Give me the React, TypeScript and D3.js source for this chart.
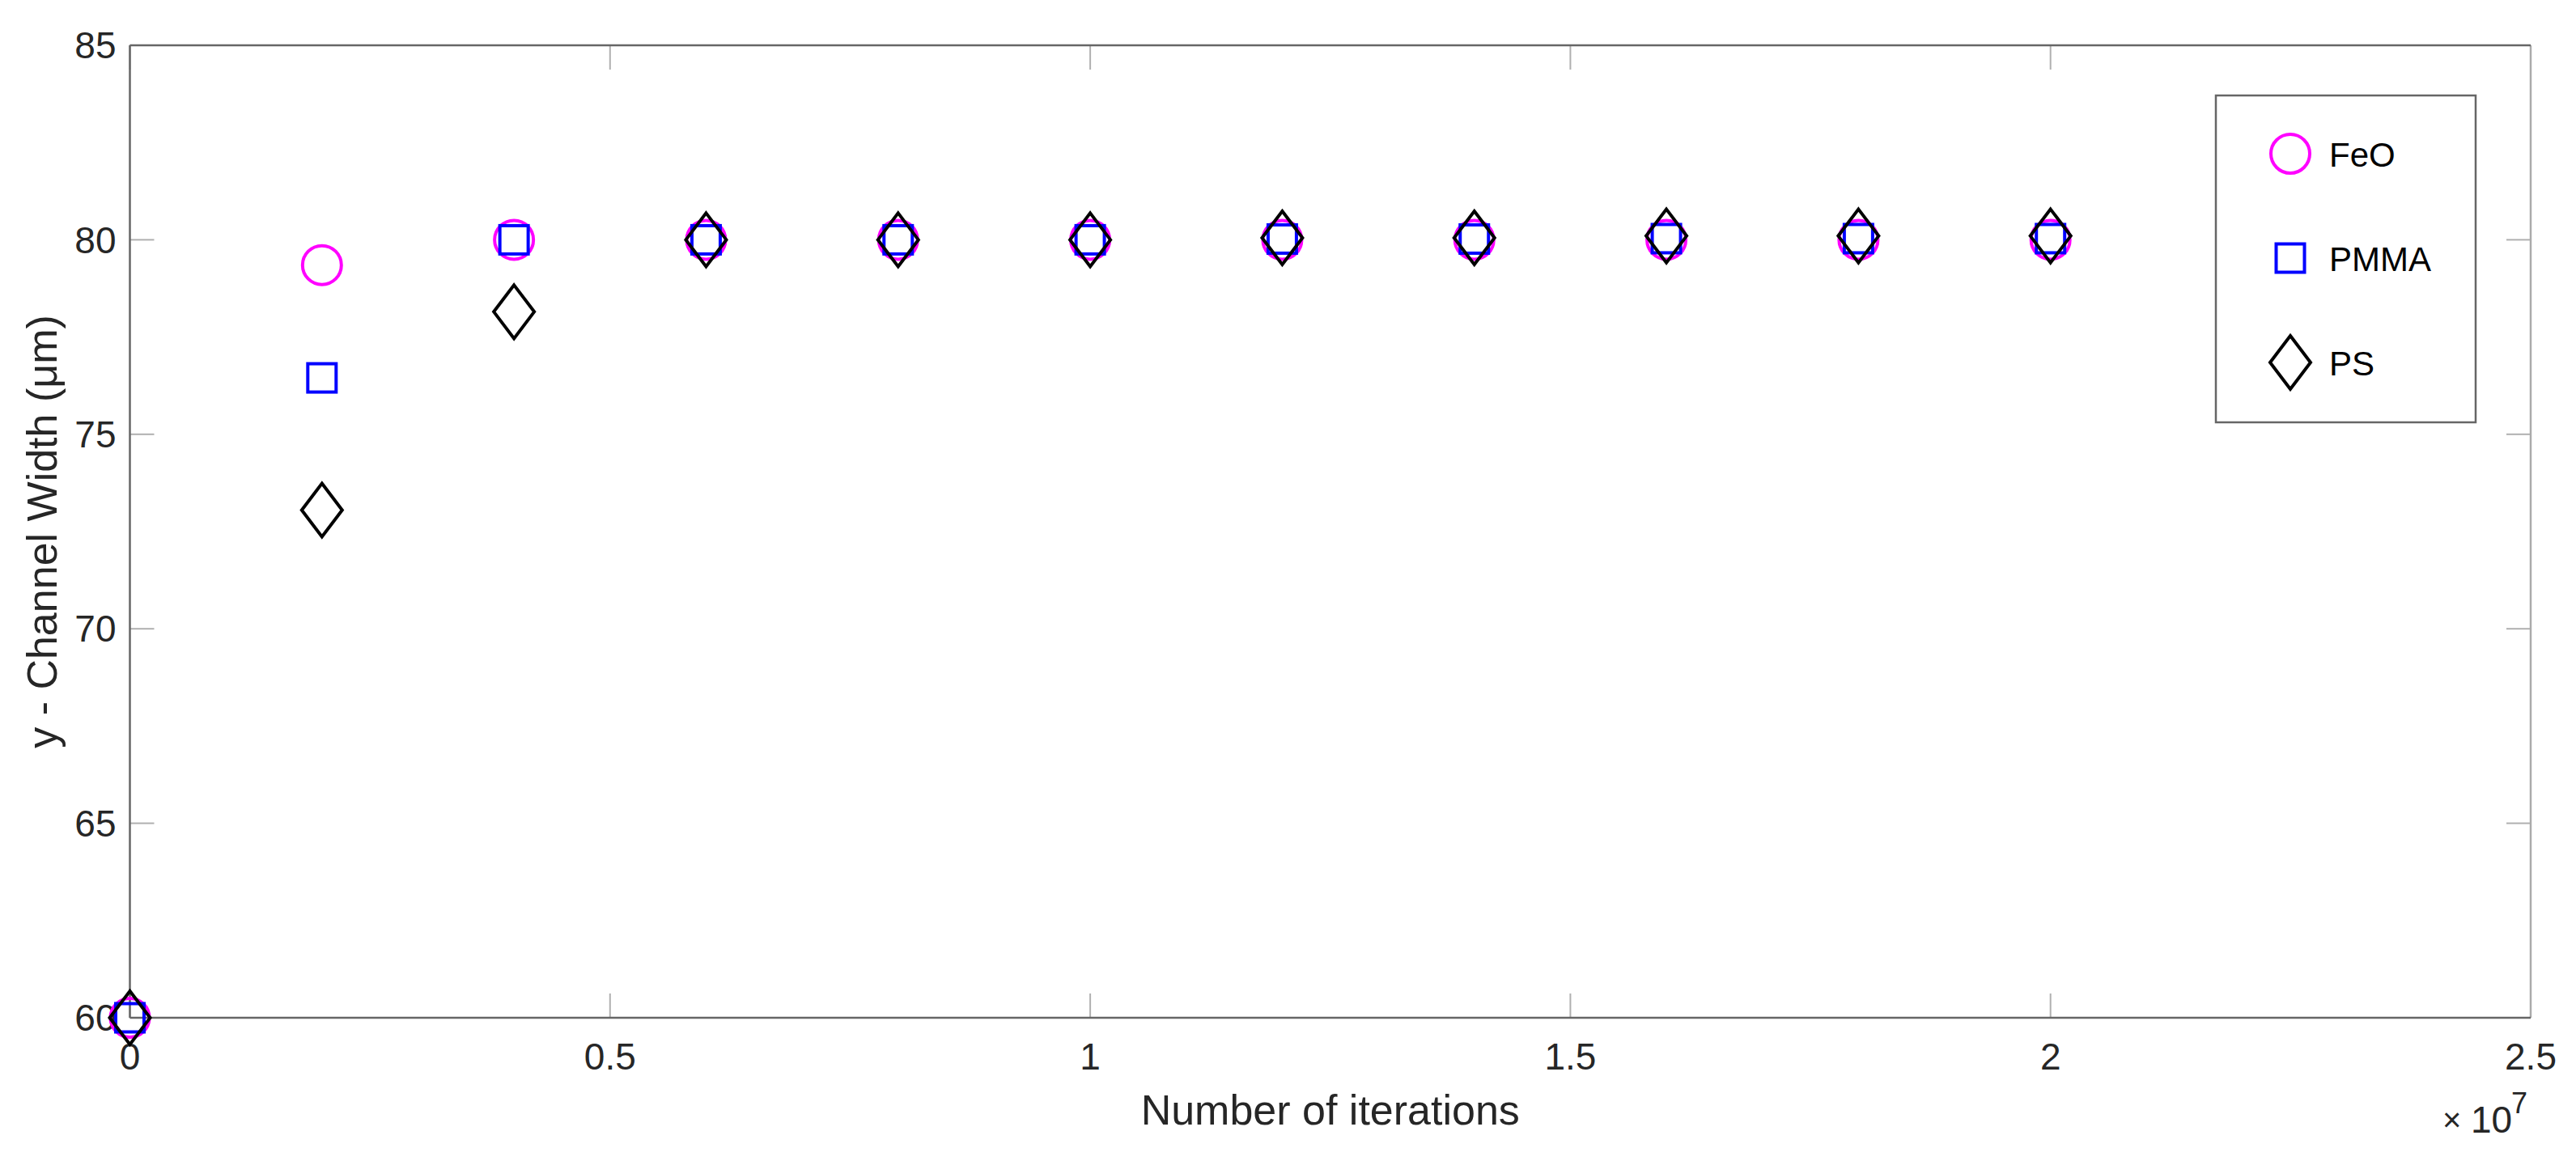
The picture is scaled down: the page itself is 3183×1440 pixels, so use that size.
import React from "react";
import * as d3 from "d3";

const iterations = [0, 2e6, 4e6, 6e6, 8e6, 10e6, 12e6, 14e6, 16e6, 18e6, 20e6];
const feoValues = [60, 79.35, 80, 80, 80, 80, 80, 80, 80, 80, 80];
const pmmaValues = [60, 76.45, 80, 80, 80, 80, 80.02, 80.02, 80.03, 80.03, 80.03];
const psValues = [60, 73.05, 78.15, 80, 80, 80, 80.05, 80.05, 80.1, 80.1, 80.1];
const seriesNames = ["FeO", "PMMA", "PS"];
const xTicks = [0, 0.5e7, 1e7, 1.5e7, 2e7, 2.5e7];
const yTicks = [60, 65, 70, 75, 80, 85];

const W = 3183;
const H = 1440;
const L = 160.5, R = 3127, T = 56, B = 1258;
const FONT = "'Liberation Sans', Arial, Helvetica, sans-serif";
const TXT = "#262626";

function Marker({ kind, cx, cy }: { kind: string; cx: number; cy: number }) {
  if (kind === "FeO") {
    return <circle cx={cx} cy={cy} r={24} fill="none" stroke="#ff00ff" strokeWidth={4} />;
  }
  if (kind === "PMMA") {
    const s = 35;
    return <rect x={cx - s / 2} y={cy - s / 2} width={s} height={s} fill="none" stroke="#0000ff" strokeWidth={4} />;
  }
  const hw = 25, hh = 33;
  const d = `M${cx},${cy - hh}L${cx + hw},${cy}L${cx},${cy + hh}L${cx - hw},${cy}Z`;
  return <path d={d} fill="none" stroke="#000" strokeWidth={4} strokeLinejoin="miter" />;
}

export default function App() {
  const x = d3.scaleLinear().domain([0, 2.5e7]).range([L, R]);
  const y = d3.scaleLinear().domain([60, 85]).range([B, T]);
  const series = [
    { name: seriesNames[0], values: feoValues },
    { name: seriesNames[1], values: pmmaValues },
    { name: seriesNames[2], values: psValues },
  ];
  const tickLen = 30;
  const tickColor = "#b0b0b0";
  const axisColor = "#666666";
  const fmt = (v: number) => d3.format("~g")(v / 1e7);

  const legendX = 2738, legendY = 118, legendW = 321, legendH = 404;
  const legendRows = [190, 319, 448];

  return (
    <svg width={W} height={H} style={{ position: "absolute", left: 0, top: 0, background: "#fff" }} fontFamily={FONT}>
      <rect x={0} y={0} width={W} height={H} fill="#fff" />
      {/* ticks */}
      {yTicks.map((t) => (
        <g key={"yt" + t}>
          <line x1={L} x2={L + tickLen} y1={y(t)} y2={y(t)} stroke={tickColor} strokeWidth={2} />
          <line x1={R} x2={R - tickLen} y1={y(t)} y2={y(t)} stroke={tickColor} strokeWidth={2} />
          <text x={L - 17} y={y(t)} dy="0.35em" textAnchor="end" fontSize={46} fill={TXT}>{t}</text>
        </g>
      ))}
      {xTicks.map((t) => (
        <g key={"xt" + t}>
          <line x1={x(t)} x2={x(t)} y1={B} y2={B - tickLen} stroke={tickColor} strokeWidth={2} />
          <line x1={x(t)} x2={x(t)} y1={T} y2={T + tickLen} stroke={tickColor} strokeWidth={2} />
          <text x={x(t)} y={1322} textAnchor="middle" fontSize={46} fill={TXT}>{fmt(t)}</text>
        </g>
      ))}
      {/* axes box */}
      <line x1={R} x2={R} y1={T} y2={B} stroke="#ababab" strokeWidth={2.5} />
      <line x1={L} x2={R} y1={T} y2={T} stroke={axisColor} strokeWidth={2.5} />
      <line x1={L} x2={L} y1={T} y2={B} stroke={axisColor} strokeWidth={2.5} />
      <line x1={L} x2={R} y1={B} y2={B} stroke={axisColor} strokeWidth={2.5} />

      {/* exponent */}
      <text x={3018} y={1398} fontSize={40} fill={TXT}>×</text>
      <text x={3053} y={1400} fontSize={46} fill={TXT}>10</text>
      <text x={3103} y={1376} fontSize={36} fill={TXT}>7</text>

      {/* axis labels */}
      <text x={(L + R) / 2} y={1390} textAnchor="middle" fontSize={52} fill={TXT}>Number of iterations</text>
      <text transform={`translate(70,${(T + B) / 2}) rotate(-90)`} textAnchor="middle" fontSize={52} fill={TXT}>
        y - Channel Width (μm)
      </text>

      {/* data */}
      {series.map((s) => (
        <g key={s.name}>
          {s.values.map((v, i) => (
            <Marker key={i} kind={s.name} cx={x(iterations[i])} cy={y(v)} />
          ))}
        </g>
      ))}

      {/* legend */}
      <rect x={legendX} y={legendY} width={legendW} height={legendH} fill="#fff" stroke={axisColor} strokeWidth={2.5} />
      {series.map((s, i) => (
        <g key={"lg" + s.name}>
          <Marker kind={s.name} cx={2830} cy={legendRows[i]} />
          <text x={2878} y={legendRows[i]} dy="0.37em" fontSize={42} fill="#000">{s.name}</text>
        </g>
      ))}
    </svg>
  );
}
